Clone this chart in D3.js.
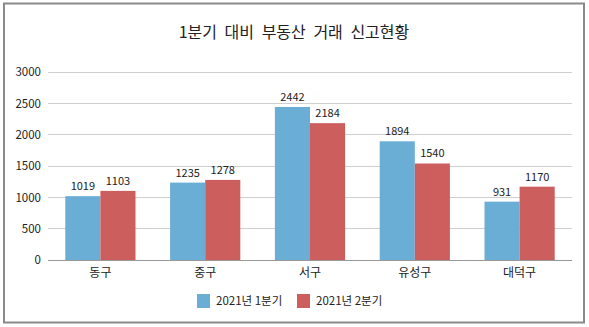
<!DOCTYPE html>
<html><head><meta charset="utf-8">
<script src="https://cdn.jsdelivr.net/npm/d3@7"></script>
<style>body{margin:0;background:#fff}svg{display:block}</style>
</head><body>
<svg id="c" width="589" height="327"></svg>
<script>
const categories = ["동구", "중구", "서구", "유성구", "대덕구"];
const seriesNames = ["2021년 1분기", "2021년 2분기"];
const q1 = [1019, 1235, 2442, 1894, 931];
const q2 = [1103, 1278, 2184, 1540, 1170];
const yTicks = [0, 500, 1000, 1500, 2000, 2500, 3000];
const colors = ["#6aaed5", "#cd5e5e"];

const svg = d3.select("#c");
const font = "'Noto Sans CJK KR', 'Noto Sans', sans-serif";
svg.append("rect").attr("x", 4).attr("y", 3.5).attr("width", 580).attr("height", 319)
  .attr("fill", "#fff").attr("stroke", "#8a8a8a").attr("stroke-width", 2);

svg.append("text").attr("x", 294).attr("y", 38).attr("text-anchor", "middle")
  .attr("font-family", font).attr("font-size", 16).attr("fill", "#222")
  .attr("word-spacing", 4)
  .text("1분기 대비 부동산 거래 신고현황");

const L = 48, R = 572, T = 72, B = 260;
const x = d3.scaleBand().domain(categories).range([L, R]).paddingInner(0.33).paddingOuter(0.165);
const xs = d3.scaleBand().domain([0, 1]).range([0, x.bandwidth()]);
const y = d3.scaleLinear().domain([0, 3000]).range([B, T]);

const g = svg.append("g");
g.selectAll("line.grid").data(yTicks).join("line")
  .attr("x1", L).attr("x2", R).attr("y1", d => y(d)).attr("y2", d => y(d))
  .attr("stroke", d => d === 0 ? "#999" : "#cfcfcf").attr("stroke-width", 1)
  .attr("shape-rendering", "crispEdges");

const yAxis = d3.axisLeft(y).tickValues(yTicks).tickFormat(d3.format("d")).tickSize(0).tickPadding(6);
const ya = svg.append("g").attr("transform", `translate(${L - 4},0)`).call(yAxis);
ya.select(".domain").remove();
ya.selectAll("text").attr("font-family", font).attr("font-size", 11.5).attr("fill", "#222").attr("x", -3);

const xAxis = d3.axisBottom(x).tickSize(0).tickPadding(8);
const xa = svg.append("g").attr("transform", `translate(0,${B})`).call(xAxis);
xa.select(".domain").remove();
xa.selectAll("text").attr("font-family", font).attr("font-size", 12).attr("fill", "#222");

const data = [q1, q2];
data.forEach((vals, si) => {
  const gs = svg.append("g");
  gs.selectAll("rect").data(vals).join("rect")
    .attr("x", (d, i) => x(categories[i]) + xs(si))
    .attr("width", xs.bandwidth())
    .attr("y", d => y(d)).attr("height", d => B - y(d))
    .attr("fill", colors[si]);
  gs.selectAll("text").data(vals).join("text")
    .attr("x", (d, i) => x(categories[i]) + xs(si) + xs.bandwidth() / 2)
    .attr("y", d => y(d) - 6).attr("text-anchor", "middle")
    .attr("font-family", font).attr("font-size", 11).attr("fill", "#222")
    .text(d => d);
});

const legX = [197, 297];
seriesNames.forEach((n, i) => {
  svg.append("rect").attr("x", legX[i]).attr("y", 294).attr("width", 13).attr("height", 14).attr("fill", colors[i]);
  svg.append("text").attr("x", legX[i] + 19).attr("y", 305).attr("font-family", font)
    .attr("font-size", 11.5).attr("fill", "#222").text(n);
});
</script>
</body></html>
